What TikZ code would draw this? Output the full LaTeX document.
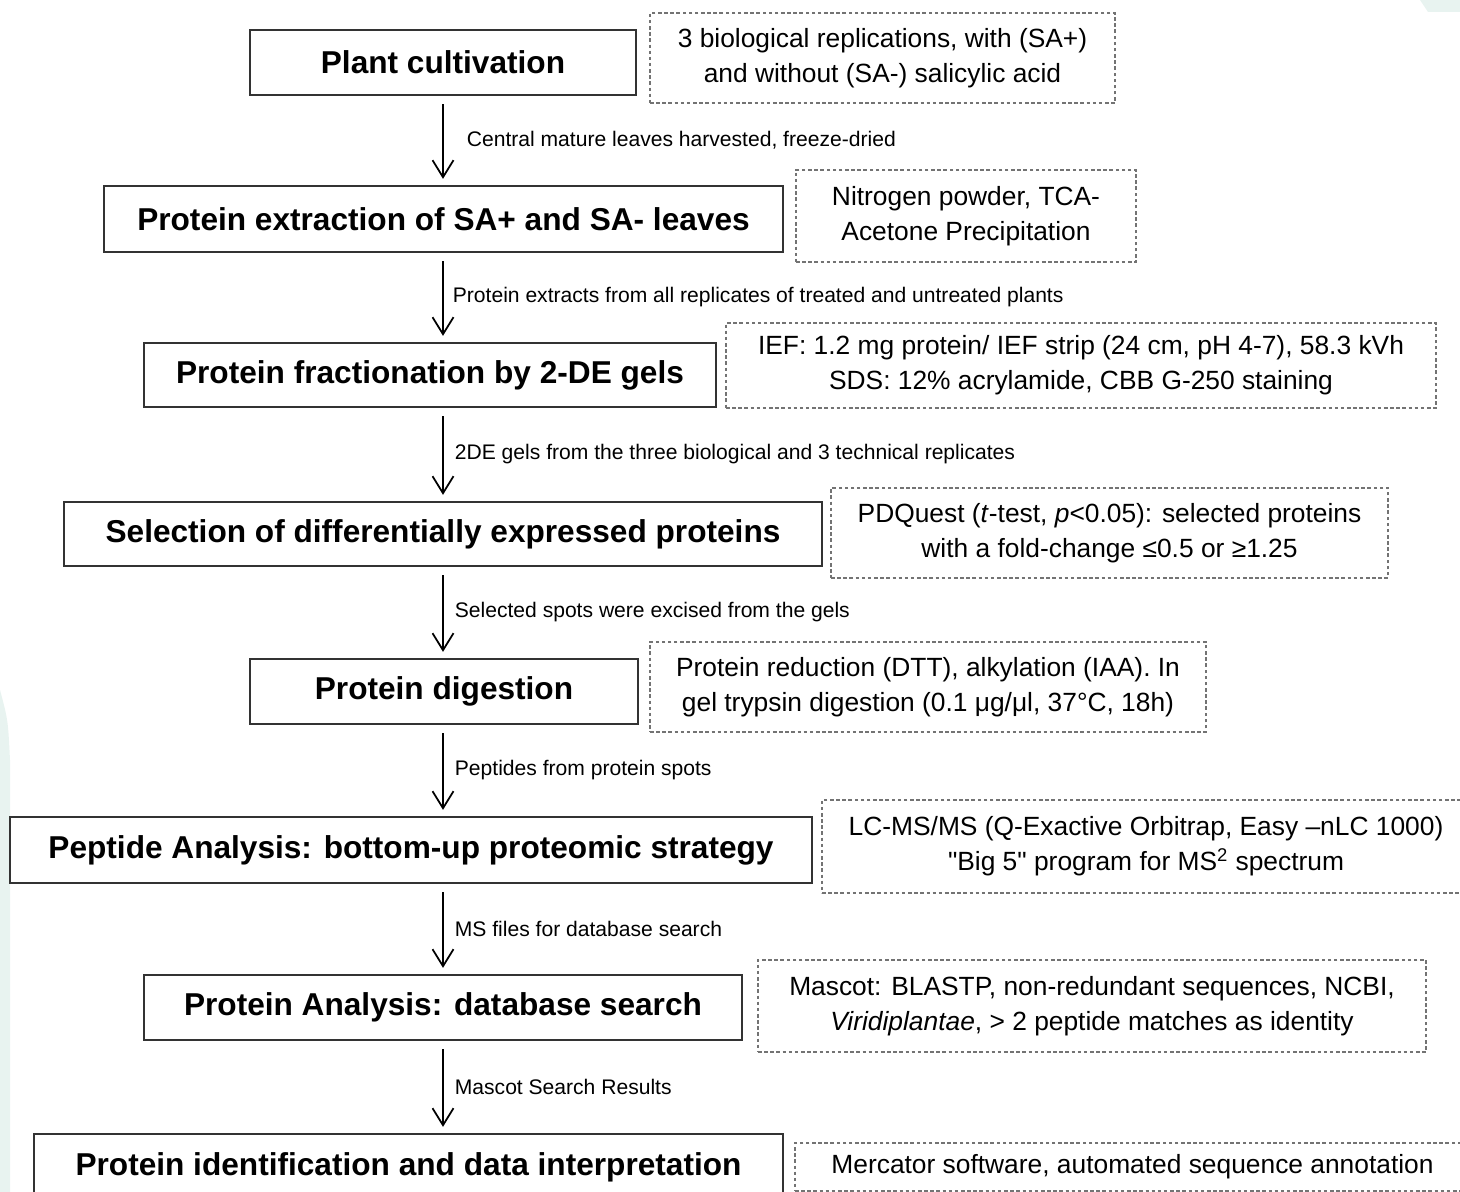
\documentclass[tikz,border=0pt]{standalone}
\usepackage{fontspec}
\setmainfont{Liberation Sans}
\newfontfamily\qfont{Liberation Sans}
\usetikzlibrary{arrows.meta}
\definecolor{bgteal}{RGB}{232,243,240}
\begin{document}
\begin{tikzpicture}[x=0.02cm,y=-0.02cm,
  sz/.style n args={2}{minimum width=#1*0.02cm, minimum height=#2*0.02cm},
  mainbox/.style={draw=black!80, line width=1.3pt, fill=white, inner sep=0pt, align=center,
    font=\fontsize{18}{22}\selectfont\bfseries},
  note/.style={draw=black!55, dash pattern=on 2pt off 1.5pt, line width=0.7pt, inner sep=0pt,
    align=center, font=\fontsize{15}{20}\selectfont},
  lbl/.style={font=\fontsize{12}{14}\selectfont, anchor=west, inner sep=0pt},
  arr/.style={-{Straight Barb[length=3.4mm,width=4.2mm]}, line width=1pt,
    shorten <=0.16cm, shorten >=0.12cm}]
\clip (0,0) rectangle (1460,1192);
\fill[white] (0,0) rectangle (1460,1192);
\fill[bgteal] (0,1192) -- (0,690) .. controls (8,720) .. (10,760) -- (10,1192) -- cycle;
\fill[bgteal] (1420,0) -- (1460,0) -- (1460,12) -- (1428,12) -- cycle;
\coordinate (col) at (443,0);

\node[mainbox, sz={386}{65}] (plant) at (443,62.5) {Plant cultivation};
\node[note, sz={465}{90}] (n1) at (882.5,58) {3 biological replications, with (SA+)\\and without (SA-) salicylic acid};

\node[mainbox, sz={679}{66}] (extr) at (443.5,219) {Protein extraction of SA+ and SA- leaves};
\node[note, sz={340}{92}] (n2) at (966,216) {Nitrogen powder, TCA-\\Acetone Precipitation};

\node[mainbox, sz={572}{64}] (frac) at (430,375) {Protein fractionation by 2-DE gels};
\node[note, sz={710}{85}] (n3) at (1081,365.5) {IEF: 1.2 mg protein/ IEF strip (24 cm, pH 4-7), 58.3 kVh\\SDS: 12\% acrylamide, CBB G-250 staining};

\node[mainbox, sz={758}{64}] (sel) at (443,534) {Selection of differentially expressed proteins};
\node[note, sz={557}{90}] (n4) at (1109.5,533) {PDQuest (\textit{t}-test, \textit{p}<0.05): selected proteins\\with a fold-change ≤0.5 or ≥1.25};

\node[mainbox, sz={388}{65}] (dig) at (444,691.5) {Protein digestion};
\node[note, sz={556}{90}] (n5) at (928,687) {Protein reduction (DTT), alkylation (IAA). In\\gel trypsin digestion (0.1 μg/μl, 37°C, 18h)};

\node[mainbox, sz={802}{66}] (pep) at (411,850) {Peptide Analysis: bottom-up proteomic strategy};
\node[note, sz={648}{93}] (n6) at (1146,846.5) {LC-MS/MS (Q-Exactive Orbitrap, Easy –nLC 1000)\\{\qfont"}Big 5{\qfont"} program for MS\textsuperscript{2} spectrum};

\node[mainbox, sz={598}{65}] (pan) at (443,1007.5) {Protein Analysis: database search};
\node[note, sz={668}{92}] (n7) at (1092,1006) {Mascot: BLASTP, non-redundant sequences, NCBI,\\\textit{Viridiplantae}, > 2 peptide matches as identity};

\node[mainbox, sz={749}{66}] (pid) at (408.5,1167) {Protein identification and data interpretation};
\node[note, sz={675}{48}] (n8) at (1132.5,1167) {Mercator software, automated sequence annotation};

\draw[arr] (plant.south -| col) -- node[lbl, xshift=23*0.02cm] {Central mature leaves harvested, freeze-dried} (extr.north -| col);
\draw[arr] (extr.south -| col) -- node[lbl, xshift=9*0.02cm] {Protein extracts from all replicates of treated and untreated plants} (frac.north -| col);
\draw[arr] (frac.south -| col) -- node[lbl, xshift=11*0.02cm] {2DE gels from the three biological and 3 technical replicates} (sel.north -| col);
\draw[arr] (sel.south -| col) -- node[lbl, xshift=11*0.02cm] {Selected spots were excised from the gels} (dig.north -| col);
\draw[arr] (dig.south -| col) -- node[lbl, xshift=11*0.02cm] {Peptides from protein spots} (pep.north -| col);
\draw[arr] (pep.south -| col) -- node[lbl, xshift=11*0.02cm] {MS files for database search} (pan.north -| col);
\draw[arr] (pan.south -| col) -- node[lbl, xshift=11*0.02cm] {Mascot Search Results} (pid.north -| col);
\end{tikzpicture}
\end{document}
